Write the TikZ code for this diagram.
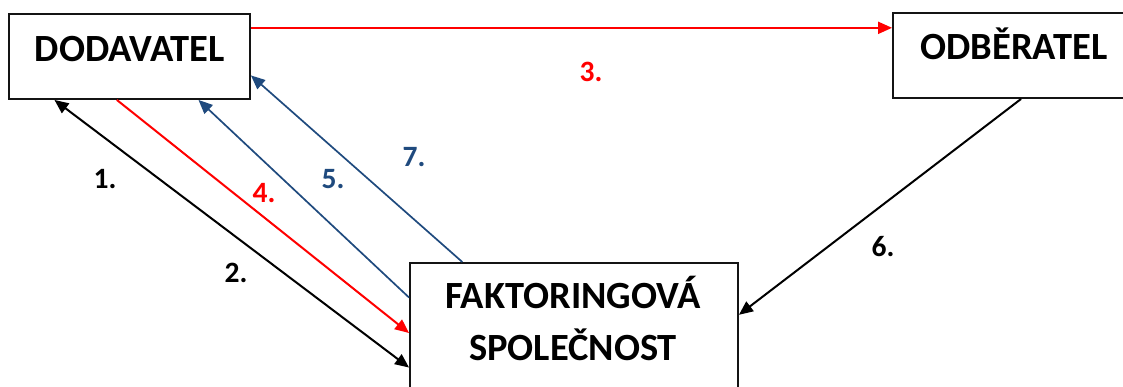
\documentclass[tikz,border=0pt]{standalone}
\usepackage{fontspec}
\setmainfont{Carlito}
\usetikzlibrary{arrows.meta,calc}
\definecolor{myred}{RGB}{255,0,0}
\definecolor{myblue}{RGB}{31,74,126}
\definecolor{myframe}{RGB}{20,20,20}
\begin{document}
\begin{tikzpicture}[x=1pt,y=1pt,
  box/.style={draw=myframe,line width=1.9pt,fill=white,inner sep=0pt,rectangle},
  boxtext/.style={anchor=base,inner sep=0pt,font=\fontsize{38.5}{46}\selectfont\bfseries},
  lab/.style={anchor=base,inner sep=0pt,font=\fontsize{29.5}{35}\selectfont\bfseries},
  tip/.style={-{Triangle[length=14pt,width=12pt]}},
  conn/.style={line width=2pt},
  bconn/.style={line width=1.7pt,draw=myblue}]
\clip (0,0) rectangle (1123,386);
\fill[white] (0,0) rectangle (1123,386);
% boxes
\node[box,minimum width=241pt,minimum height=85pt] (dod) at (129.5,329.5) {};
\node[box,minimum width=237pt,minimum height=85pt] (odb) at (1011.5,330.5) {};
\node[box,minimum width=328pt,minimum height=133pt] (fak) at (574,56.5) {};
% box texts
\node[boxtext] (tdod) at (130,324) {DODAVATEL};
\node[boxtext] (todb) at (1014,326) {ODBĚRATEL};
\node[boxtext] (tfak1) at (573,78) {FAKTORINGOVÁ};
\node[boxtext] (tfak2) at (573,26) {SPOLEČNOST};
% anchor points
\coordinate (d1) at ($(dod.south west)!0.191!(dod.south east)$);
\coordinate (d4) at ($(dod.south west)!0.448!(dod.south east)$);
\coordinate (d5) at ($(dod.south west)!0.784!(dod.south east)$);
\coordinate (d7) at ($(dod.south east)!0.282!(dod.north east)$);
\coordinate (d3) at ($(dod.south east)!0.830!(dod.north east)$);
\coordinate (o6) at ($(odb.south west)!0.540!(odb.south east)$);
\coordinate (f2) at ($(fak.south west)!0.218!(fak.north west)$);
\coordinate (f4) at ($(fak.south west)!0.474!(fak.north west)$);
\coordinate (f5) at ($(fak.south west)!0.737!(fak.north west)$);
\coordinate (f7) at ($(fak.north west)!0.1616!(fak.north east)$);
\coordinate (f6) at ($(fak.south east)!0.609!(fak.north east)$);
% connectors
\draw[conn,draw=myred,tip,fill=myred] (d3) -- (d3 -| odb.west);
\draw[conn,draw=black,{Triangle[length=14pt,width=12pt]}-{Triangle[length=14pt,width=12pt]}] (d1) -- (f2);
\draw[conn,draw=myred,tip] (d4) -- (f4);
\draw[bconn,tip] (f5) -- (d5);
\draw[bconn,tip] (f7) -- (d7);
\draw[conn,draw=black,tip] (o6) -- (f6);
% labels
\node[lab,text=myred] (l3) at (591,304) {3.};
\node[lab] (l1) at (105,198) {1.};
\node[lab,text=myred] (l4) at (264,184) {4.};
\node[lab,text=myblue] (l5) at (333,198) {5.};
\node[lab,text=myblue] (l7) at (414,219) {7.};
\node[lab] (l2) at (236,104) {2.};
\node[lab] (l6) at (883,130) {6.};
\end{tikzpicture}
\end{document}
